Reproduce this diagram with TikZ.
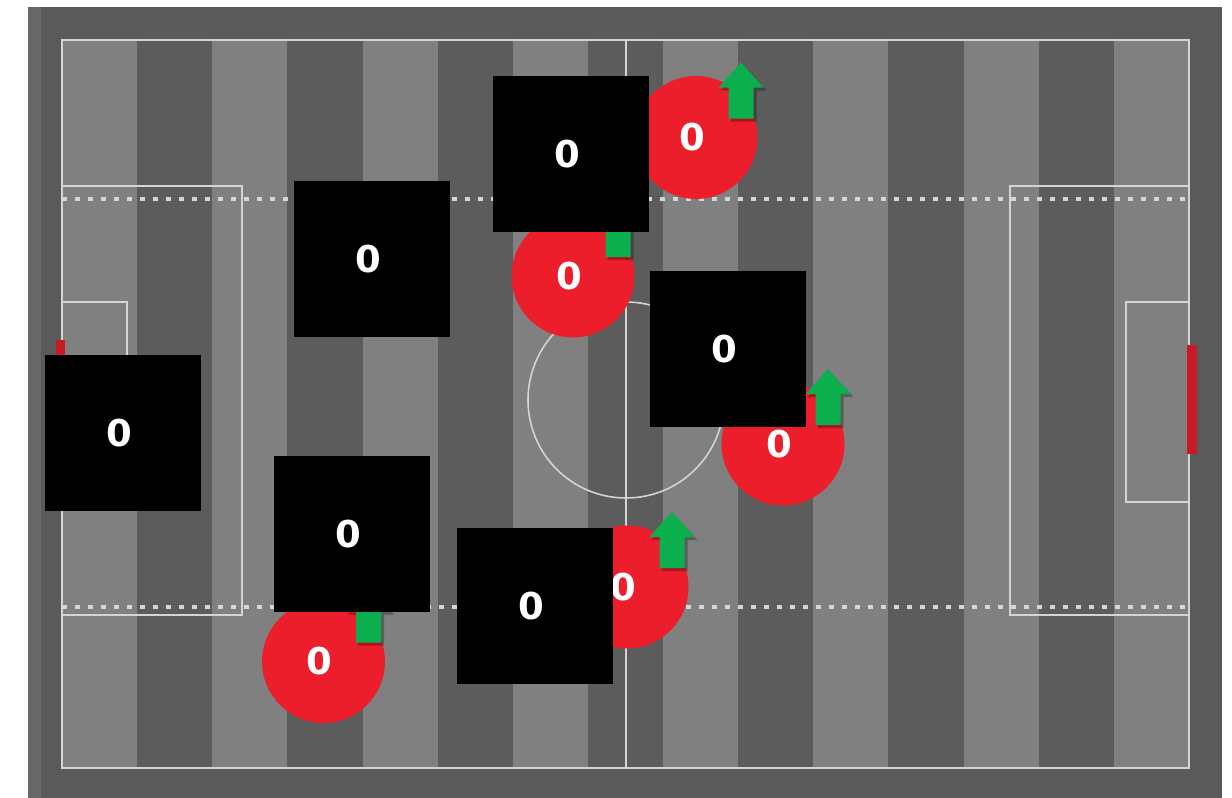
\documentclass[tikz,border=0pt]{standalone}
\usepackage{fontspec}
\newfontfamily\lblfont{DejaVu Sans}
\usetikzlibrary{calc}
\definecolor{pitchlight}{HTML}{808080}
\definecolor{pitchdark}{HTML}{5C5C5C}
\definecolor{borderg}{HTML}{5A5A5A}
\definecolor{redp}{HTML}{EC1E2C}
\definecolor{greena}{HTML}{0BAF4D}
\definecolor{linew}{HTML}{D4D4D4}
\newcommand{\zlabel}{0\kern8pt}
\begin{document}
\begin{tikzpicture}[x=1pt,y=-1pt,
  lbl/.style={text=white, font=\lblfont\bfseries\fontsize{37}{40}\selectfont},
  player/.style={lbl, circle, fill=redp, minimum size=123pt, inner sep=0pt},
  blocker/.style={lbl, rectangle, fill=black, minimum size=156pt, inner sep=0pt},
  pline/.style={draw=linew, line width=1.6pt},
  dotline/.style={draw=linew!95!white, line width=3.8pt, dash pattern=on 4.5pt off 8.5pt},
  goalbar/.style={fill=redp!85!black},
  stripeL/.style={fill=pitchlight},
  stripeD/.style={fill=pitchdark}
]
% canvas
\useasboundingbox (0,0) rectangle (1232,798);
\fill[white] (0,0) rectangle (1232,798);
\fill[borderg] (28,7) rectangle (1222,798);
\fill[gray!75!black!95] (28,7) rectangle (41,798);
% stripes
\foreach \i in {0,...,14}{
  \pgfmathsetmacro{\xa}{62+75.13*\i}
  \pgfmathsetmacro{\xb}{62+75.13*(\i+1)}
  \pgfmathparse{int(mod(\i,2))}
  \ifnum\pgfmathresult=0
    \fill[stripeL] (\xa,40) rectangle (\xb,768);
  \else
    \fill[stripeD] (\xa,34) rectangle (\xb,768);
  \fi
}
% dotted lines
\draw[dotline] (62,199) -- (1189,199);
\draw[dotline] (62,607) -- (1189,607);
% pitch lines
\draw[pline] (62,40) rectangle (1189,768);
\draw[pline] (626,40) -- (626,768);
\draw[pline] (626,400) circle[radius=98];
\draw[pline] (62,186) rectangle (242,615);
\draw[pline] (1189,186) rectangle (1010,615);
\draw[pline] (62,302) rectangle (127,504);
\draw[pline] (1189,302) rectangle (1126,502);
% goals
\fill[goalbar] (1187,345) rectangle (1197,454);
\fill[goalbar] (56,340) rectangle (65,460);

% players (red)
\node[player] (pa) at (696,137.5) {\zlabel};
\node[player] (pb) at (573,276) {\zlabel};
\node[player] (pc) at (783,444) {\zlabel};
\node[player] (pd) at (627,587) {\zlabel};
\node[player] (pe) at (323.5,661.5) {\zlabel};

% direction arrows
\foreach \p in {pa,pb,pc,pd,pe}{
  \fill[black,opacity=0.28]
    ($(\p.center)+(47.5,-72)$) -- ($(\p.center)+(70.5,-47)$) -- ($(\p.center)+(60.5,-47)$)
    -- ($(\p.center)+(60.5,-16)$) -- ($(\p.center)+(34.5,-16)$) -- ($(\p.center)+(34.5,-47)$)
    -- ($(\p.center)+(24.5,-47)$) -- cycle;
  \fill[greena]
    ($(\p.center)+(45,-75)$) -- ($(\p.center)+(67.5,-50)$) -- ($(\p.center)+(57.5,-50)$)
    -- ($(\p.center)+(57.5,-19)$) -- ($(\p.center)+(32.5,-19)$) -- ($(\p.center)+(32.5,-50)$)
    -- ($(\p.center)+(22.5,-50)$) -- cycle;
}

% blockers (black)
\node[blocker] (b1) at (571,154) {\zlabel};
\node[blocker] (b2) at (372,259) {\zlabel};
\node[blocker] (b3) at (728,349) {\zlabel};
\node[blocker] (b4) at (123,433) {\zlabel};
\node[blocker] (b5) at (352,534) {\zlabel};
\node[blocker] (b6) at (535,606) {\zlabel};
\end{tikzpicture}
\end{document}
